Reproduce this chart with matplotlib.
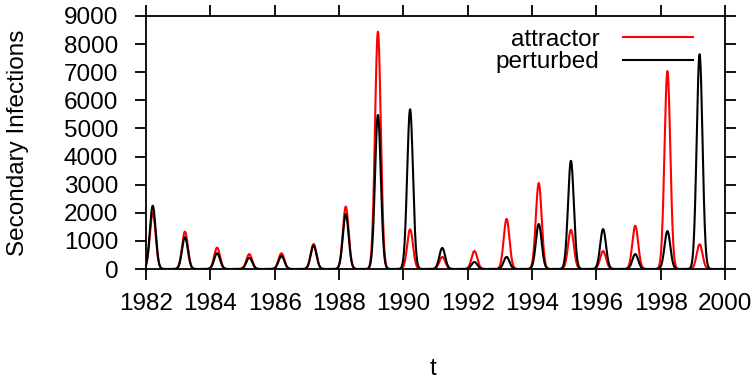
import numpy as np
import matplotlib
matplotlib.use('Agg')
import matplotlib.pyplot as plt

#---------- data ----------*
# one epidemic peak per year, peak value in secondary infections
years = np.arange(1982, 2000)
attractor_peaks = [1990, 1330, 760, 530, 560, 890, 2220, 8440, 1410,
                   430, 640, 1780, 3060, 1390, 640, 1540, 7040, 880]
perturbed_peaks = [2250, 1130, 560, 400, 460, 830, 1950, 5480, 5680,
                   750, 250, 430, 1600, 3850, 1420, 530, 1350, 7640]
peak_phase = 0.21   # fraction of year where the outbreak peaks
peak_width = 0.09   # years

xticks = np.arange(1982, 2001, 2)
yticks = np.arange(0, 9001, 1000)

#---------- build the time series from the peaks ----------*
t = np.linspace(1982, 2000, 3000)

def series(peaks):
    y = np.zeros_like(t)
    for yr, h in zip(years, peaks):
        y += h * np.exp(-0.5 * ((t - yr - peak_phase) / peak_width) ** 2)
    return y

plt.rcParams['font.family'] = ['Liberation Sans', 'DejaVu Sans']
plt.rcParams['font.size'] = 17.5

fig = plt.figure(figsize=(7.54, 3.79), dpi=100)
ax = fig.add_axes([146 / 754, 1 - 269 / 379, 579 / 754, 253 / 379])

ax.plot(t, series(attractor_peaks), color='#ff0000', lw=1.5, label='attractor')
ax.plot(t, series(perturbed_peaks), color='black', lw=1.5, label='perturbed')

ax.set_xlim(1982, 2000)
ax.set_ylim(0, 9000)
ax.set_xticks(xticks)
ax.set_yticks(yticks)
ax.tick_params(direction='out', length=8, width=1.3, top=True, right=True,
               labeltop=False, labelright=False)
ax.tick_params(axis='x', pad=9)
ax.tick_params(axis='y', pad=12)
for s in ax.spines.values():
    s.set_linewidth(1.3)

ax.set_xlabel('t', va='baseline')
ax.xaxis.set_label_coords(0.495, (269 - 375) / 253)
ax.set_ylabel('Secondary Infections')
ax.yaxis.set_label_coords(-0.202, 0.5)

leg = ax.legend(loc='upper right', bbox_to_anchor=(0.945, 0.95), frameon=False,
                markerfirst=False, handlelength=2.9, handletextpad=0.95,
                labelspacing=0.02, borderpad=0, borderaxespad=0)

fig.savefig('out.png', dpi=100)
